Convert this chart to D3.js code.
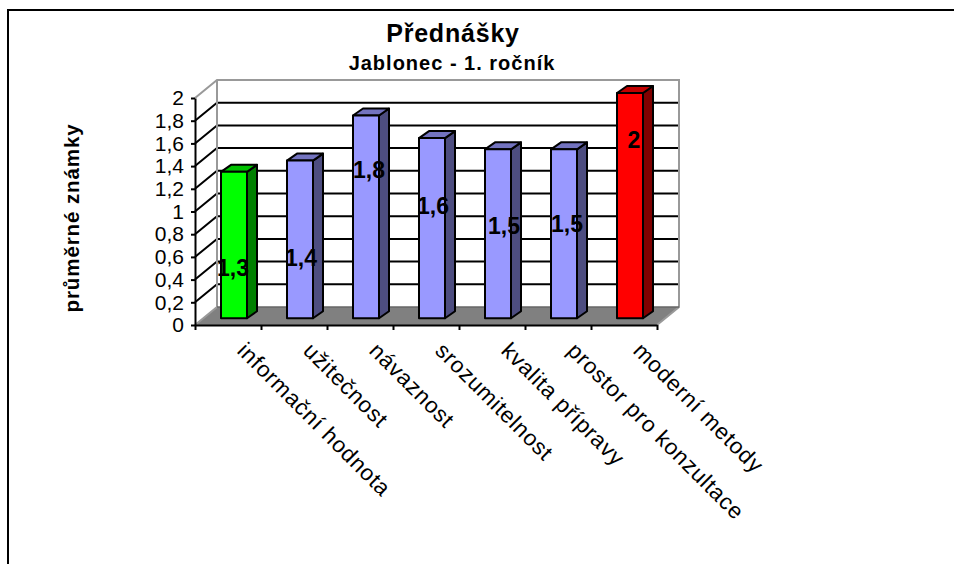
<!DOCTYPE html>
<html>
<head>
<meta charset="utf-8">
<script src="https://cdnjs.cloudflare.com/ajax/libs/d3/7.8.5/d3.min.js"></script>
<style>
  html, body { margin: 0; padding: 0; background: #fff; overflow: hidden; }
  text { font-family: "Liberation Sans", Arial, sans-serif; fill: #000; }
</style>
</head>
<body>
<div id="chart"></div>
<script>
const categories = ["informační hodnota", "užitečnost", "návaznost", "srozumitelnost", "kvalita přípravy", "prostor pro konzultace", "moderní metody"];
const values = [1.3, 1.4, 1.8, 1.6, 1.5, 1.5, 2];
const yTicks = [0, 0.2, 0.4, 0.6, 0.8, 1, 1.2, 1.4, 1.6, 1.8, 2];
const titleText = "Přednášky";
const subtitleText = "Jablonec - 1. ročník";
const yTitle = "průměrné známky";

// front plane of the fake 3d box, everything else is offset from it
const plot = { left: 195, right: 657, top: 98, bottom: 325 };
const depth = { x: 22, y: 18 };
const barW = 26, barOffset = 26;
const barDepth = { x: 10, y: 7 };

const comma = d => String(d).replace(".", ",");

// data labels were moved by hand in the original, so they sit at odd heights
const labelLevel = [0.43, 0.52, 1.295, 0.98, 0.80, 0.82, 1.56];
const labelShift = [-1, 1, 3, 1, 6, 3, 4];

function barColors(i) {
  if (i === 0) return { front: "#00ff00", side: "#008000", top: "#00c000" };
  if (i === categories.length - 1) return { front: "#ff0000", side: "#800000", top: "#c00000" };
  return { front: "#9999ff", side: "#4d4d80", top: "#7373bf" };
}

const svg = d3.select("#chart").append("svg")
  .attr("width", 954)
  .attr("height", 564)
  .style("display", "block");

// chart frame, cut off by the picture on the right and at the bottom
svg.append("path")
  .attr("d", "M8,564V10H954")
  .attr("fill", "none")
  .attr("stroke", "#000")
  .attr("stroke-width", 2);

const x = d3.scaleBand().domain(categories).range([plot.left, plot.right]);
const xEdges = d3.scaleLinear().domain([0, categories.length]).range([plot.left, plot.right]);
const y = d3.scaleLinear().domain([0, 2]).range([plot.bottom, plot.top]);
// bars stand in the middle of the floor, so they get their own range
const yBar = d3.scaleLinear().domain([0, 2]).range([318.3, 93]);

const line = d3.line();
const wallL = plot.left + depth.x, wallR = plot.right + depth.x;
const back = v => y(v) - depth.y;

// floor
svg.append("path")
  .attr("d", line([[plot.left, y(0)], [wallL, back(0)], [wallR, back(0)], [plot.right, y(0)]]) + "Z")
  .attr("fill", "#808080");

// grid on back and side wall
const grid = svg.append("g").attr("fill", "none").attr("stroke", "#000").attr("stroke-width", 2);
grid.selectAll("path")
  .data(yTicks.filter(v => v > 0 && v < 2))
  .join("path")
  .attr("d", v => line([[plot.left, y(v)], [wallL, back(v)], [wallR, back(v)]]));

// wall outline is gray
svg.append("path")
  .attr("d", line([[plot.left, y(2)], [wallL, back(2)], [wallR, back(2)], [wallR, back(0)], [plot.right, y(0)]]))
  .attr("fill", "none").attr("stroke", "#999").attr("stroke-width", 2);
svg.append("path")
  .attr("d", line([[wallL, back(2)], [wallL, back(0)], [plot.left, y(0)]]))
  .attr("fill", "none").attr("stroke", "#999").attr("stroke-width", 2);
svg.append("path")
  .attr("d", line([[wallL, back(0)], [wallR, back(0)]]))
  .attr("fill", "none").attr("stroke", "#666").attr("stroke-width", 1.5);

// bars
const bars = svg.append("g").selectAll("g")
  .data(values)
  .join("g")
  .attr("stroke", "#000")
  .attr("stroke-width", 2)
  .attr("stroke-linejoin", "round");

const bx = (d, i) => x(categories[i]) + barOffset;

bars.append("path")
  .attr("fill", (d, i) => barColors(i).side)
  .attr("d", (d, i) => {
    const r = bx(d, i) + barW;
    return line([[r, yBar(d)], [r + barDepth.x, yBar(d) - barDepth.y], [r + barDepth.x, yBar(0) - barDepth.y], [r, yBar(0)]]) + "Z";
  });
bars.append("path")
  .attr("fill", (d, i) => barColors(i).top)
  .attr("d", (d, i) => {
    const l = bx(d, i), t = yBar(d);
    return line([[l, t], [l + barDepth.x, t - barDepth.y], [l + barW + barDepth.x, t - barDepth.y], [l + barW, t]]) + "Z";
  });
bars.append("rect")
  .attr("fill", (d, i) => barColors(i).front)
  .attr("x", bx)
  .attr("y", yBar)
  .attr("width", barW)
  .attr("height", d => yBar(0) - yBar(d));

// axes
const yAxis = svg.append("g")
  .attr("transform", `translate(${plot.left},0)`)
  .call(d3.axisLeft(y).tickValues(yTicks).tickFormat(comma).tickSize(4).tickSizeOuter(0).tickPadding(7));
const xAxis = svg.append("g")
  .attr("transform", `translate(0,${plot.bottom})`)
  .call(d3.axisBottom(xEdges).tickValues(d3.range(categories.length + 1)).tickFormat("").tickSize(5).tickSizeOuter(0));
[yAxis, xAxis].forEach(a => {
  a.selectAll("path,line").attr("stroke", "#000").attr("stroke-width", 2);
});
yAxis.selectAll("text")
  .style("font-size", "21px")
  .attr("fill", "#000");

// category labels
svg.append("g").selectAll("text")
  .data(categories)
  .join("text")
  .attr("transform", d => `translate(${x(d) + 41},${plot.bottom + 27}) rotate(45)`)
  .style("font-size", "22.5px")
  .style("letter-spacing", "0.75px")
  .text(d => d);

// data labels
svg.append("g").selectAll("text")
  .data(values)
  .join("text")
  .attr("x", (d, i) => bx(d, i) + barW / 2 + labelShift[i])
  .attr("y", (d, i) => y(labelLevel[i]))
  .attr("text-anchor", "middle")
  .style("font-size", "23px")
  .style("font-weight", "bold")
  .text(comma);

svg.append("text")
  .attr("x", 453).attr("y", 42)
  .attr("text-anchor", "middle")
  .style("font-size", "25px")
  .style("letter-spacing", "0.8px")
  .style("font-weight", "bold")
  .text(titleText);
svg.append("text")
  .attr("x", 452).attr("y", 70)
  .attr("text-anchor", "middle")
  .style("font-size", "20px")
  .style("letter-spacing", "1px")
  .style("font-weight", "bold")
  .text(subtitleText);
svg.append("text")
  .attr("transform", "translate(79,218) rotate(-90)")
  .attr("text-anchor", "middle")
  .style("font-size", "20.5px")
  .style("letter-spacing", "0.9px")
  .style("font-weight", "bold")
  .text(yTitle);
</script>
</body>
</html>
